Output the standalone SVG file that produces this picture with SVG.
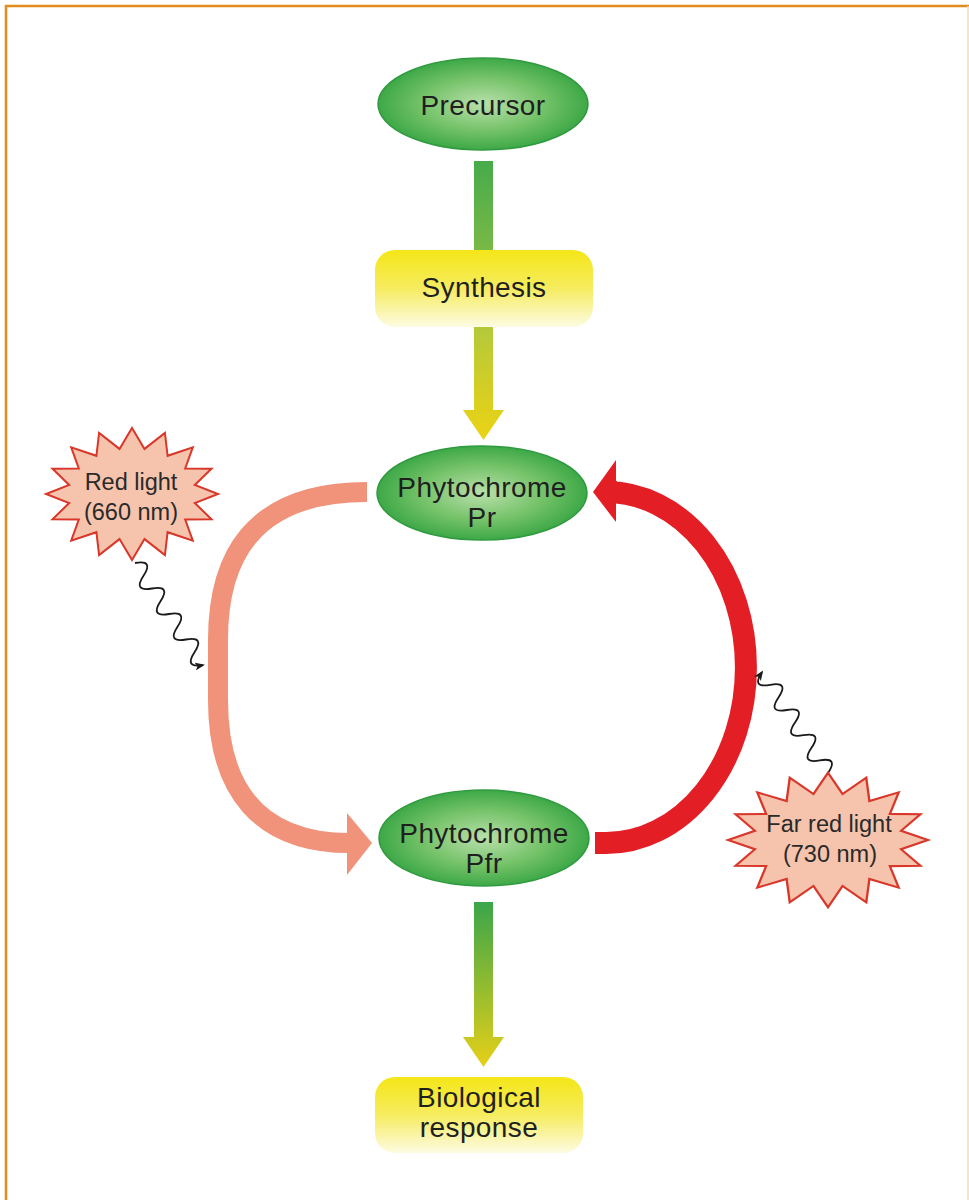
<svg xmlns="http://www.w3.org/2000/svg" width="969" height="1200" viewBox="0 0 969 1200">
<style>
.lbl{font-family:"Liberation Sans",Arial,sans-serif;font-size:28px;fill:#1f1f1f;text-anchor:middle;letter-spacing:0.4px}
.slbl{font-family:"Liberation Sans",Arial,sans-serif;font-size:23.5px;fill:#2a2a2a;text-anchor:middle}
.oval{fill:url(#gOval);stroke:#2f9a3e;stroke-width:1.5}
.box{fill:url(#gBox)}
.star{fill:#f6c3ad;stroke:#d8372a;stroke-width:2;stroke-linejoin:miter;vector-effect:non-scaling-stroke}
.wave{fill:none;stroke:#1a1a1a;stroke-width:1.8;marker-end:url(#mk)}
</style>
<defs>
<radialGradient id="gOval" cx="50%" cy="50%" r="55%">
<stop offset="0" stop-color="#b9e0ab"/>
<stop offset="0.55" stop-color="#72c166"/>
<stop offset="1" stop-color="#30a240"/>
</radialGradient>
<linearGradient id="gBox" x1="0" y1="0" x2="0" y2="1">
<stop offset="0" stop-color="#f4e617"/>
<stop offset="0.5" stop-color="#f6ec60"/>
<stop offset="1" stop-color="#fdfbe2"/>
</linearGradient>
<linearGradient id="gBar1" x1="0" y1="0" x2="0" y2="1">
<stop offset="0" stop-color="#46ab4b"/>
<stop offset="1" stop-color="#79b946"/>
</linearGradient>
<linearGradient id="gArr1" x1="0" y1="0" x2="0" y2="1">
<stop offset="0" stop-color="#b3c93a"/>
<stop offset="1" stop-color="#ecd314"/>
</linearGradient>
<linearGradient id="gArr2" x1="0" y1="0" x2="0" y2="1">
<stop offset="0" stop-color="#3aa64a"/>
<stop offset="1" stop-color="#e6d018"/>
</linearGradient>
<marker id="mk" viewBox="0 0 10 8" refX="8" refY="4" markerWidth="10" markerHeight="8" orient="auto" markerUnits="userSpaceOnUse">
<path d="M0,0 L10,4 L0,8 L2.5,4 z" fill="#1a1a1a"/>
</marker>
<polygon id="starShape" points="0,-66 12.5,-45.1 32.9,-61 35.6,-38.2 60.8,-46.7 53.2,-25.6 79.5,-25.3 62.8,-9 86,0 62.8,9 79.5,25.3 53.2,25.6 60.8,46.7 35.6,38.2 32.9,61 12.5,45.1 0,66 -12.5,45.1 -32.9,61 -35.6,38.2 -60.8,46.7 -53.2,25.6 -79.5,25.3 -62.8,9 -86,0 -62.8,-9 -79.5,-25.3 -53.2,-25.6 -60.8,-46.7 -35.6,-38.2 -32.9,-61 -12.5,-45.1"/>
</defs>
<rect width="969" height="1200" fill="#ffffff"/>
<path d="M6,1200 V6 H969" fill="none" stroke="#e38b1f" stroke-width="2.5"/>
<line x1="968" y1="6" x2="968" y2="1200" stroke="#f7d9b8" stroke-width="1.5"/>

<g id="connectors">
<rect x="474" y="161" width="19" height="89" fill="url(#gBar1)"/>
<path d="M474,327 H493 V410 H504 L483.5,440 L463,410 H474 Z" fill="url(#gArr1)"/>
<path d="M474,902 H493 V1037 H504 L483.5,1067 L463,1037 H474 Z" fill="url(#gArr2)"/>
<path d="M367,492 C250,492 218,560 218,640 L218,700 C218,790 260,843 350,843" fill="none" stroke="#f0937a" stroke-width="20"/>
<polygon points="347,813 372,843 347,875" fill="#f0937a"/>
<path d="M595,843 H606 A140 175.5 0 0 0 606,492 H617" fill="none" stroke="#e31e25" stroke-width="22"/>
<polygon points="616,460 593,492 616,522" fill="#e31e25"/>
<path class="wave" d="M135,563 q19.2,-3.6 8.5,12.75 t8.5,12.75 t8.5,12.75 t8.5,12.75 t8.5,12.75 t8.5,12.75 t8.5,12.75 t8.5,12.75"/>
<path class="wave" d="M828,773 q10.95,-16.15 -8.25,-12.6 t-8.25,-12.6 t-8.25,-12.6 t-8.25,-12.6 t-8.25,-12.6 t-8.25,-12.6 t-8.25,-12.6 t-8.25,-12.6"/>
</g>

<g id="precursor">
<ellipse class="oval" cx="483" cy="104" rx="105" ry="46"/>
<text class="lbl" x="483" y="115">Precursor</text>
</g>
<g id="synthesis">
<rect class="box" x="375" y="250" width="218" height="77" rx="20"/>
<text class="lbl" x="484" y="297">Synthesis</text>
</g>
<g id="pr">
<ellipse class="oval" cx="482" cy="493" rx="105" ry="47"/>
<text class="lbl" x="482" y="497">Phytochrome</text>
<text class="lbl" x="482" y="527">Pr</text>
</g>
<g id="pfr">
<ellipse class="oval" cx="484" cy="838" rx="105" ry="48"/>
<text class="lbl" x="484" y="843">Phytochrome</text>
<text class="lbl" x="484" y="873">Pfr</text>
</g>
<g id="response">
<rect class="box" x="375" y="1077" width="208" height="76" rx="20"/>
<text class="lbl" x="479" y="1107">Biological</text>
<text class="lbl" x="479" y="1137">response</text>
</g>
<g id="redlight">
<use href="#starShape" class="star" transform="translate(132,494)"/>
<text class="slbl" x="131" y="490">Red light</text>
<text class="slbl" x="131" y="520">(660 nm)</text>
</g>
<g id="farredlight">
<use href="#starShape" class="star" transform="translate(828,840) scale(1.163,1.02)"/>
<text class="slbl" x="829" y="832">Far red light</text>
<text class="slbl" x="830" y="862">(730 nm)</text>
</g>
</svg>
